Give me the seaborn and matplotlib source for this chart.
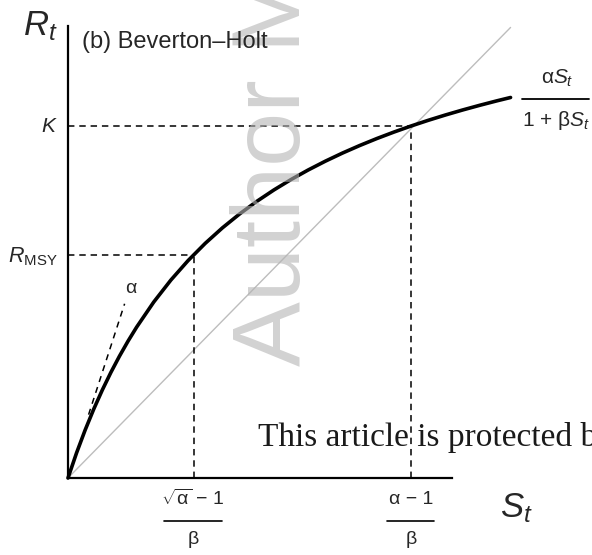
import numpy as np
import pandas as pd
import matplotlib
matplotlib.use("Agg")
import matplotlib.pyplot as plt
from matplotlib.lines import Line2D
import seaborn as sns

# ---- data (alpha = 3, beta = 1) ----
curve_S = [0.0, 0.05, 0.1, 0.15, 0.2, 0.25, 0.3, 0.35, 0.4, 0.5, 0.6, 0.7, 0.8, 0.9,
           1.0, 1.1, 1.2, 1.3, 1.4, 1.5, 1.6, 1.7, 1.8, 1.9, 2.0, 2.1, 2.2, 2.3,
           2.4, 2.5, 2.58]
curve_R = [0.0, 0.1429, 0.2727, 0.3913, 0.5, 0.6, 0.6923, 0.7778, 0.8571, 1.0,
           1.125, 1.2353, 1.3333, 1.4211, 1.5, 1.5714, 1.6364, 1.6957, 1.75, 1.8,
           1.8462, 1.8889, 1.9286, 1.9655, 2.0, 2.0323, 2.0625, 2.0909, 2.1176,
           2.1429, 2.162]
diag_S = [0.0, 2.58]
diag_R = [0.0, 2.56]
tangent_S = [0.12, 0.33]
tangent_R = [0.36, 0.99]
S_msy, R_msy = 0.732, 1.268
S_star, K = 2.0, 2.0
alpha_label_pos = (0.335, 1.03)

W, H = 592, 555
sns.set_theme(style="white")
plt.rcParams["font.family"] = ["Liberation Sans", "DejaVu Sans"]
plt.rcParams["mathtext.fontset"] = "custom"
plt.rcParams["mathtext.rm"] = "Liberation Sans"
plt.rcParams["mathtext.it"] = "Liberation Sans:italic"
plt.rcParams["mathtext.sf"] = "Liberation Sans"

fig = plt.figure(figsize=(W / 100, H / 100), dpi=100)
fig.patch.set_facecolor("white")
ax = fig.add_axes([68 / W, 1 - 478 / H, 446 / W, 457.6 / H])
ax.set_facecolor("none")


def fx(px):
    return px / W


def fy(py):
    return 1 - py / H


# watermark (behind)
fig.text(fx(300), fy(366), "Author Manuscript", rotation=90, rotation_mode="anchor",
         ha="left", va="baseline", fontsize=70, color="#b4b4b4", alpha=0.6,
         family="Liberation Sans", zorder=0)

# diagonal replacement line
sns.lineplot(x=diag_S, y=diag_R, ax=ax, color="#bdbdbd", lw=1.0, clip_on=False,
             estimator=None, sort=False)
# Beverton-Holt curve
sns.lineplot(x=curve_S, y=curve_R, ax=ax, color="black", lw=2.6, clip_on=False,
             estimator=None, sort=False)
# tangent (slope alpha)
ax.plot(tangent_S, tangent_R, color="black", lw=1.1, ls=(0, (4, 3.5)))
ax.text(*alpha_label_pos, "\u03b1", fontsize=14, ha="left", va="bottom")

dash = (0, (4.2, 3.2))
ax.plot([0, S_star], [K, K], color="black", lw=1.1, ls=dash)
ax.plot([S_star, S_star], [0, K], color="black", lw=1.1, ls=dash)
ax.plot([0, S_msy], [R_msy, R_msy], color="black", lw=1.1, ls=dash)
ax.plot([S_msy, S_msy], [0, R_msy], color="black", lw=1.1, ls=dash)

ax.set_xlim(0, 2.6)
ax.set_ylim(0, 2.6)
ax.set_xticks([])
ax.set_yticks([])
for s in ["top", "right"]:
    ax.spines[s].set_visible(False)
for s in ["left", "bottom"]:
    ax.spines[s].set_color("black")
    ax.spines[s].set_linewidth(1.6)
ax.spines["bottom"].set_bounds(0, 2.239)
ax.spines["left"].set_bounds(0, 2.568)

# labels
fig.text(fx(40), fy(26), r"$R_t$", fontsize=25, ha="center", va="center")
fig.text(fx(82), fy(42), "(b) Beverton\u2013Holt", fontsize=17, ha="left", va="center")
fig.text(fx(58), fy(127), r"$K$", fontsize=15, ha="right", va="center")
fig.text(fx(58), fy(257), r"$R_{\mathrm{MSY}}$", fontsize=15.5, ha="right", va="center")
fig.text(fx(516), fy(508), r"$S_t$", fontsize=25, ha="center", va="center")

# right-hand fraction
fig.text(fx(557), fy(78), "\u03b1$S_t$", fontsize=15, ha="center", va="center")
fig.add_artist(Line2D([fx(522), fx(589)], [fy(99), fy(99)], transform=fig.transFigure,
                      color="black", lw=1.3))
fig.text(fx(556), fy(120), "1 + \u03b2$S_t$", fontsize=15, ha="center", va="center")

# x fractions
fig.text(fx(193), fy(499), "$\\sqrt{\\mathrm{\\alpha}}$ \u2212 1", fontsize=14,
         ha="center", va="center")
fig.add_artist(Line2D([fx(164), fx(222)], [fy(521), fy(521)], transform=fig.transFigure,
                      color="black", lw=1.2))
fig.text(fx(193), fy(540), "\u03b2", fontsize=14, ha="center", va="center")

fig.text(fx(411), fy(499), "\u03b1 \u2212 1", fontsize=14, ha="center", va="center")
fig.add_artist(Line2D([fx(387), fx(434)], [fy(521), fy(521)], transform=fig.transFigure,
                      color="black", lw=1.2))
fig.text(fx(411), fy(540), "\u03b2", fontsize=14, ha="center", va="center")

# protection notice
fig.text(fx(258), fy(446), "This article is protected by copyright. All rights reserved",
         fontsize=24, family="Liberation Serif", color="#1a1a1a", ha="left",
         va="baseline")

fig.savefig("out.png", dpi=100, facecolor="white")
